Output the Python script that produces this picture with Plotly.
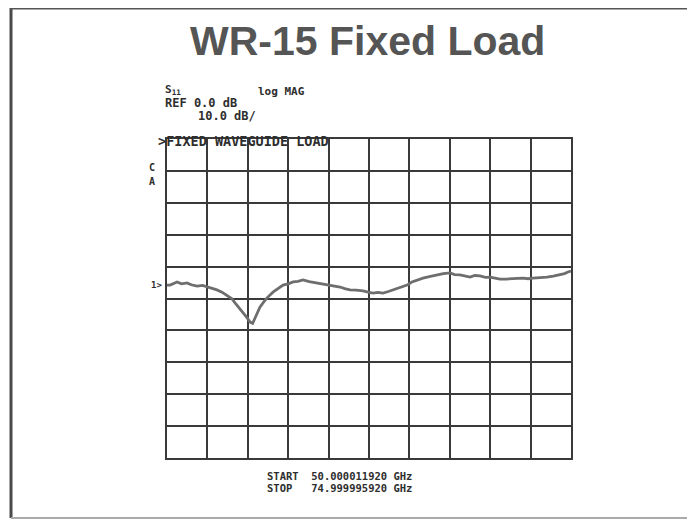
import plotly.graph_objects as go

# Frequency (GHz) and S11 trace (dB, relative to chart grid)
freq_ghz = [50.0, 50.19, 50.45, 50.62, 50.9, 51.24, 51.5, 51.86, 52.2, 52.54, 52.8, 53.09,
            53.4, 53.71, 54.0, 54.21, 54.45, 54.70, 54.95, 55.14, 55.3, 55.45, 55.6, 55.75,
            56.0, 56.19, 56.56, 56.9, 57.18, 57.5, 57.80, 58.1, 58.42, 58.8, 59.28, 59.7,
            60.09, 60.4, 60.71, 61.0, 61.32, 61.7, 62.13, 62.45, 62.75, 63.05, 63.37, 63.7,
            63.98, 64.3, 64.60, 64.9, 65.16, 65.5, 65.84, 66.3, 66.71, 67.1, 67.51, 67.8,
            68.13, 68.45, 68.75, 69.05, 69.37, 69.7, 69.99, 70.3, 70.61, 71.0, 71.41, 71.7,
            72.03, 72.35, 72.65, 73.1, 73.51, 73.9, 74.32, 74.6, 74.81, 75.0]
s11_db = [4.2, 4.2, 4.8, 5.2, 4.6, 4.9, 4.3, 3.9, 4.1, 3.6, 3.2, 2.7,
          2.0, 1.1, 0.0, -1.4, -2.8, -4.5, -6.0, -7.4, -7.8, -6.1, -4.2, -2.7,
          -1.0, 0.2, 2.0, 3.2, 4.2, 4.6, 5.2, 5.4, 5.8, 5.3, 4.9, 4.6,
          4.2, 4.0, 3.6, 3.1, 2.7, 2.6, 2.4, 2.0, 1.7, 1.9, 1.7, 2.2,
          2.7, 3.1, 3.6, 4.3, 5.2, 5.9, 6.4, 6.9, 7.4, 7.8, 8.0, 7.5,
          7.4, 7.0, 6.7, 7.2, 7.1, 6.6, 6.7, 6.4, 6.1, 6.1, 6.1, 6.3,
          6.4, 6.2, 6.4, 6.5, 6.7, 7.0, 7.4, 7.8, 8.3, 8.6]

x_ticks = [50 + 2.5 * i for i in range(11)]
y_ticks = [-50 + 10 * i for i in range(11)]

OFF = 8  # page body margin
W, H = 695 - OFF, 525 - OFF
L, R, T, B = 167, 571, 139, 458  # plot area in window pixels


def px2x(px):
    return (px - L) / (R - L)


def px2y(py):
    return (B - py) / (B - T)


fig = go.Figure()
fig.add_trace(go.Scatter(x=freq_ghz, y=s11_db, mode="lines",
                         line=dict(color="#6e6e6e", width=2.8), hoverinfo="skip",
                         showlegend=False))

axis_common = dict(showticklabels=False, ticks="", showgrid=True, gridcolor="#3a3a3a",
                   gridwidth=1.6, zeroline=False, showline=True, mirror=True,
                   linecolor="#3a3a3a", linewidth=1.6, fixedrange=True)
fig.update_xaxes(range=[50, 75], tickvals=x_ticks, **axis_common)
fig.update_yaxes(range=[-50, 50], tickvals=y_ticks, **axis_common)

mono = "DejaVu Sans Mono"
txt_color = "#2e2e2e"
ann = []


def add_text(text, px, py, size=10, font=mono, color=txt_color, xanchor="left", bold=True):
    ann.append(dict(text=("<b>%s</b>" % text) if bold else text, x=px2x(px), y=px2y(py),
                    xref="paper", yref="paper", xanchor=xanchor, yanchor="middle",
                    showarrow=False, font=dict(family=font, size=size, color=color)))


add_text("WR-15 Fixed Load", 367, 41, size=41, font="Liberation Sans", color="#555555",
         xanchor="center")
add_text("S<sub>11</sub>", 163, 90, size=11)
add_text("log MAG", 256, 91, size=11)
add_text("REF 0.0 dB", 163, 103, size=12)
add_text("10.0 dB/", 196, 116, size=12)
add_text("&gt;FIXED WAVEGUIDE LOAD", 156, 141, size=13.5)
add_text("C", 147, 167, size=10)
add_text("A", 147, 181, size=10)
add_text("1&gt;", 149, 285, size=9)
add_text("START  50.000011920 GHz", 265, 476, size=10.5)
add_text("STOP   74.999995920 GHz", 265, 488, size=10.5)

shapes = [
    dict(type="line", xref="paper", yref="paper", x0=px2x(11), x1=px2x(11),
         y0=px2y(8), y1=px2y(518), line=dict(color="#4a4a4a", width=3)),
    dict(type="line", xref="paper", yref="paper", x0=px2x(10), x1=px2x(695),
         y0=px2y(8), y1=px2y(8), line=dict(color="#555555", width=3)),
    dict(type="line", xref="paper", yref="paper", x0=px2x(11), x1=px2x(695),
         y0=px2y(518), y1=px2y(518), line=dict(color="#aaaaaa", width=2)),
    dict(type="line", xref="paper", yref="paper", x0=px2x(693.5), x1=px2x(693.5),
         y0=px2y(8), y1=px2y(150), line=dict(color="#bbbbbb", width=1)),
]

fig.update_layout(width=W, height=H,
                  margin=dict(l=L - OFF, r=W - (R - OFF), t=T - OFF, b=H - (B - OFF)),
                  paper_bgcolor="white", plot_bgcolor="white",
                  annotations=ann, shapes=shapes, showlegend=False)

fig.write_html("out.html")
